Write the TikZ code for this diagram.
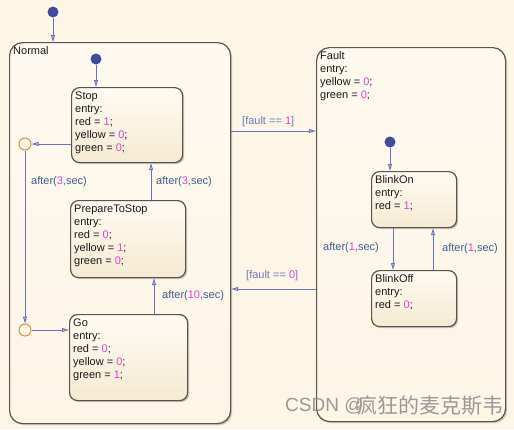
\documentclass[tikz,border=0pt]{standalone}
\usepackage{fontspec}
\setmainfont{Liberation Sans}
\newfontfamily\cjkfont{Noto Sans CJK SC}
\usetikzlibrary{arrows.meta,shadows,calc}
\definecolor{bgc}{HTML}{FDF5E6}
\definecolor{stbord}{HTML}{5A534C}
\definecolor{sttop}{HTML}{FFFBF3}
\definecolor{stbot}{HTML}{F5EAD2}
\definecolor{trc}{HTML}{6874B8}
\definecolor{lblc}{HTML}{3E5C8C}
\definecolor{grdc}{HTML}{6C78B8}
\definecolor{numc}{HTML}{E040D8}
\definecolor{dotc}{HTML}{414B9E}
\definecolor{juncc}{HTML}{E0903A}
\newcommand{\nm}[1]{\textcolor{numc}{#1}}
\tikzset{
  statebox/.style={draw=stbord, line width=1.2pt, rounded corners=8pt,
    top color=sttop, bottom color=stbot, anchor=north west, inner sep=0pt,
    drop shadow={shadow xshift=1.5pt, shadow yshift=-1.5pt, opacity=0.35, fill=black!60}},
  bigstate/.style={statebox, rounded corners=13pt, top color=bgc!60!white, bottom color=bgc},
  sttext/.style={anchor=north west, align=left, inner sep=0pt,
    font=\fontsize{11}{13}\selectfont, text=black!90},
  tr/.style={draw=trc, line width=1pt, -{Triangle[open,length=7pt,width=4pt]}},
  lbl/.style={anchor=west, inner sep=0pt, text=lblc, font=\fontsize{11}{13}\selectfont},
  grd/.style={lbl, text=grdc},
  defdot/.style={circle, fill=dotc, minimum size=11pt, inner sep=0pt},
  junc/.style={circle, draw=juncc, line width=1pt, fill=bgc, minimum size=12pt, inner sep=0pt},
}
\begin{document}
\begin{tikzpicture}[x=1pt,y=-1pt]
\fill[bgc] (0,0) rectangle (514,429);
\useasboundingbox (0,0) rectangle (514,429);

% big states
\node[bigstate, minimum width=221pt, minimum height=381pt] (normal) at (9,42) {};
\node[sttext] (normaltxt) at (13,46.5) {Normal};
\node[bigstate, minimum width=189pt, minimum height=374pt] (fault) at (316,47) {};
\node[sttext] (faulttxt) at (320,51.5) {Fault\\entry:\\yellow = \nm{0};\\green = \nm{0};};

% inner states
\node[statebox, minimum width=111pt, minimum height=75pt] (stop) at (71,87) {};
\node[sttext] (stoptxt) at (75,91.5) {Stop\\entry:\\red = \nm{1};\\yellow = \nm{0};\\green = \nm{0};};
\node[statebox, minimum width=115pt, minimum height=77pt] (prep) at (70,200) {};
\node[sttext] (preptxt) at (74,204.5) {PrepareToStop\\entry:\\red = \nm{0};\\yellow = \nm{1};\\green = \nm{0};};
\node[statebox, minimum width=118pt, minimum height=86pt] (go) at (69,314) {};
\node[sttext] (gotxt) at (73,318.5) {Go\\entry:\\red = \nm{0};\\yellow = \nm{0};\\green = \nm{1};};
\node[statebox, minimum width=85pt, minimum height=56pt] (blon) at (371,171) {};
\node[sttext] (blontxt) at (375,175.5) {BlinkOn\\entry:\\red = \nm{1};};
\node[statebox, minimum width=85pt, minimum height=56pt] (bloff) at (371,270) {};
\node[sttext] (blofftxt) at (375,274.5) {BlinkOff\\entry:\\red = \nm{0};};

% default transitions
\node[defdot] (d0) at (53,12) {};
\draw[tr] (d0) -- (d0 |- normal.north);
\node[defdot] (d1) at (96,59) {};
\draw[tr] (d1) -- (d1 |- stop.north);
\node[defdot] (d2) at (390,142) {};
\draw[tr] (d2) -- (d2 |- blon.north);

% junctions
\node[junc] (j1) at (25,144) {};
\node[junc] (j2) at (25,330) {};
\draw[tr] (stop.west |- j1) -- (j1);
\draw[tr] (j1) -- (j2);
\draw[tr] (j2) -- (go.west |- j2);
\node[lbl] (l1) at (31,182) {after(\nm{3},sec)};

% vertical transitions
\coordinate (c1) at (151,0);
\draw[tr] (c1 |- prep.north) -- (c1 |- stop.south);
\node[lbl] (l2) at (156,182) {after(\nm{3},sec)};
\coordinate (c2) at (154,0);
\draw[tr] (c2 |- go.north) -- (c2 |- prep.south);
\node[lbl] (l3) at (162,296) {after(\nm{10},sec)};

% fault transitions
\coordinate (c3) at (0,131);
\draw[tr] (normal.east |- c3) -- (fault.west |- c3);
\node[grd] (l4) at (242,122) {[fault == \nm{1}]};
\coordinate (c4) at (0,289);
\draw[tr] (fault.west |- c4) -- (normal.east |- c4);
\node[grd] (l5) at (246,276) {[fault == \nm{0}]};

% blink transitions
\coordinate (c5) at (393,0);
\draw[tr] (c5 |- blon.south) -- (c5 |- bloff.north);
\node[lbl] (l6) at (323,248) {after(\nm{1},sec)};
\coordinate (c6) at (433,0);
\draw[tr] (c6 |- bloff.north) -- (c6 |- blon.south);
\node[lbl] (l7) at (442,249) {after(\nm{1},sec)};

% watermark
\node[anchor=west, inner sep=0pt, text=black!40, font=\fontsize{19}{20}\selectfont] (wm1) at (285,406) {CSDN @};
\node[anchor=west, inner sep=0pt, text=black!40, font=\cjkfont\fontsize{21}{24}\selectfont] (wm2) at (356,406) {疯狂的麦克斯韦};
\end{tikzpicture}
\end{document}
